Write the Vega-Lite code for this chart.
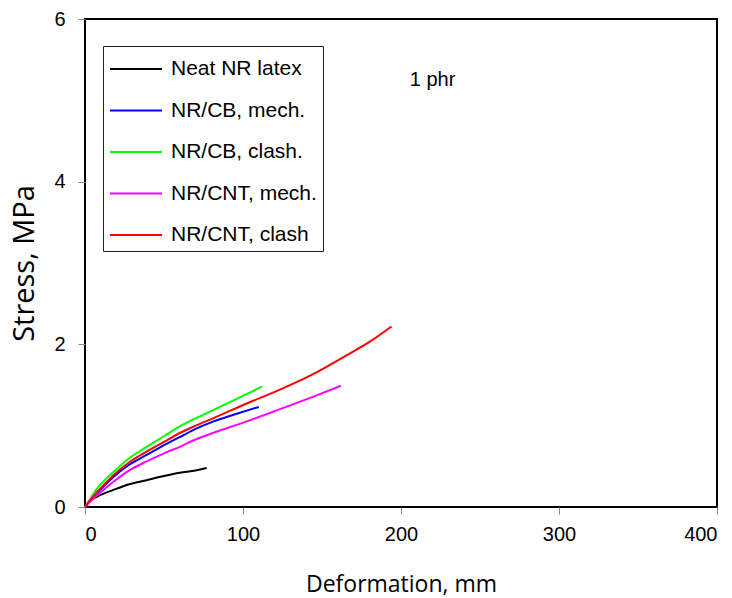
{
  "$schema": "https://vega.github.io/schema/vega-lite/v6.json",
  "autosize": {"type": "none"},
  "padding": {"left": 85, "top": 19, "right": 15, "bottom": 91},
  "width": 632,
  "height": 488,
  "background": "white",
  "config": {
    "font": "Liberation Sans",
    "view": {"stroke": "black", "strokeWidth": 2},
    "axis": {"grid": false, "domain": false, "tickColor": "#888888", "tickSize": 7, "labelFontSize": 20, "labelColor": "black", "labelFont": "Liberation Sans", "titleFont": "Open Sans", "titleFontWeight": "normal", "titleColor": "black"}
  },
  "datasets": {
    "curves": [
      {"series": "Neat NR latex", "x": 0, "y": 0},
      {"series": "Neat NR latex", "x": 3, "y": 0.07},
      {"series": "Neat NR latex", "x": 8, "y": 0.13},
      {"series": "Neat NR latex", "x": 18, "y": 0.21},
      {"series": "Neat NR latex", "x": 28, "y": 0.28},
      {"series": "Neat NR latex", "x": 39, "y": 0.33},
      {"series": "Neat NR latex", "x": 50, "y": 0.38},
      {"series": "Neat NR latex", "x": 60, "y": 0.42},
      {"series": "Neat NR latex", "x": 70, "y": 0.45},
      {"series": "Neat NR latex", "x": 77, "y": 0.48},
      {"series": "NR/CB, mech.", "x": 0, "y": 0},
      {"series": "NR/CB, mech.", "x": 3, "y": 0.08},
      {"series": "NR/CB, mech.", "x": 8, "y": 0.18},
      {"series": "NR/CB, mech.", "x": 18, "y": 0.37},
      {"series": "NR/CB, mech.", "x": 28, "y": 0.52},
      {"series": "NR/CB, mech.", "x": 39, "y": 0.64},
      {"series": "NR/CB, mech.", "x": 50, "y": 0.76},
      {"series": "NR/CB, mech.", "x": 60, "y": 0.86},
      {"series": "NR/CB, mech.", "x": 70, "y": 0.96},
      {"series": "NR/CB, mech.", "x": 81, "y": 1.05},
      {"series": "NR/CB, mech.", "x": 95, "y": 1.14},
      {"series": "NR/CB, mech.", "x": 110, "y": 1.23},
      {"series": "NR/CB, clash.", "x": 0, "y": 0},
      {"series": "NR/CB, clash.", "x": 3, "y": 0.09},
      {"series": "NR/CB, clash.", "x": 7, "y": 0.21},
      {"series": "NR/CB, clash.", "x": 18, "y": 0.43},
      {"series": "NR/CB, clash.", "x": 28, "y": 0.6},
      {"series": "NR/CB, clash.", "x": 39, "y": 0.74},
      {"series": "NR/CB, clash.", "x": 50, "y": 0.87},
      {"series": "NR/CB, clash.", "x": 60, "y": 0.99},
      {"series": "NR/CB, clash.", "x": 70, "y": 1.09},
      {"series": "NR/CB, clash.", "x": 81, "y": 1.19},
      {"series": "NR/CB, clash.", "x": 95, "y": 1.32},
      {"series": "NR/CB, clash.", "x": 112, "y": 1.48},
      {"series": "NR/CNT, mech.", "x": 0, "y": 0},
      {"series": "NR/CNT, mech.", "x": 3, "y": 0.06},
      {"series": "NR/CNT, mech.", "x": 8, "y": 0.15},
      {"series": "NR/CNT, mech.", "x": 18, "y": 0.31},
      {"series": "NR/CNT, mech.", "x": 28, "y": 0.45},
      {"series": "NR/CNT, mech.", "x": 39, "y": 0.56},
      {"series": "NR/CNT, mech.", "x": 50, "y": 0.66},
      {"series": "NR/CNT, mech.", "x": 60, "y": 0.74},
      {"series": "NR/CNT, mech.", "x": 70, "y": 0.83},
      {"series": "NR/CNT, mech.", "x": 81, "y": 0.91},
      {"series": "NR/CNT, mech.", "x": 102, "y": 1.05},
      {"series": "NR/CNT, mech.", "x": 123, "y": 1.2},
      {"series": "NR/CNT, mech.", "x": 145, "y": 1.36},
      {"series": "NR/CNT, mech.", "x": 162, "y": 1.49},
      {"series": "NR/CNT, clash", "x": 0, "y": 0},
      {"series": "NR/CNT, clash", "x": 3, "y": 0.08},
      {"series": "NR/CNT, clash", "x": 8, "y": 0.19},
      {"series": "NR/CNT, clash", "x": 18, "y": 0.39},
      {"series": "NR/CNT, clash", "x": 28, "y": 0.55},
      {"series": "NR/CNT, clash", "x": 39, "y": 0.68},
      {"series": "NR/CNT, clash", "x": 50, "y": 0.8},
      {"series": "NR/CNT, clash", "x": 60, "y": 0.91},
      {"series": "NR/CNT, clash", "x": 70, "y": 1.0},
      {"series": "NR/CNT, clash", "x": 81, "y": 1.09},
      {"series": "NR/CNT, clash", "x": 102, "y": 1.27},
      {"series": "NR/CNT, clash", "x": 123, "y": 1.44},
      {"series": "NR/CNT, clash", "x": 145, "y": 1.64},
      {"series": "NR/CNT, clash", "x": 166, "y": 1.87},
      {"series": "NR/CNT, clash", "x": 180, "y": 2.03},
      {"series": "NR/CNT, clash", "x": 194, "y": 2.22}
    ],
    "note": [{"x": 220, "y": 5.25, "label": "1 phr"}]
  },
  "layer": [
    {
      "data": {"name": "curves"},
      "mark": {"type": "line", "strokeWidth": 2, "interpolate": "monotone"},
      "encoding": {
        "x": {"field": "x", "type": "quantitative", "scale": {"domain": [0, 400], "nice": false}, "axis": {"values": [0, 100, 200, 300, 400], "format": "d", "title": "Deformation, mm", "labelPadding": 10, "titleFontSize": 23, "titleBaseline": "alphabetic", "titleY": 84}},
        "y": {"field": "y", "type": "quantitative", "scale": {"domain": [0, 6], "nice": false}, "axis": {"values": [0, 2, 4, 6], "format": "d", "title": "Stress, MPa", "labelPadding": 13, "titleFontSize": 29, "titleBaseline": "alphabetic", "titleX": -52}},
        "color": {
          "field": "series", "type": "nominal",
          "scale": {"domain": ["Neat NR latex", "NR/CB, mech.", "NR/CB, clash.", "NR/CNT, mech.", "NR/CNT, clash"], "range": ["#000000", "#0000ff", "#00ff00", "#ff00ff", "#ff0000"]},
          "legend": {
            "title": " ", "titleFontSize": 1, "titlePadding": 7,
            "orient": "none", "legendX": 18, "legendY": 27,
            "symbolType": "stroke", "symbolSize": 2704, "symbolStrokeWidth": 2,
            "labelFontSize": 21, "labelColor": "black", "labelOffset": 8,
            "clipHeight": 18, "rowPadding": 20.5, "padding": 6,
            "strokeColor": "#222222", "fillColor": "white"
          }
        },
        "detail": {"field": "series"}
      }
    },
    {
      "data": {"name": "note"},
      "mark": {"type": "text", "fontSize": 20, "align": "center", "baseline": "middle", "color": "black"},
      "encoding": {
        "x": {"field": "x", "type": "quantitative"},
        "y": {"field": "y", "type": "quantitative"},
        "text": {"field": "label"}
      }
    }
  ]
}
